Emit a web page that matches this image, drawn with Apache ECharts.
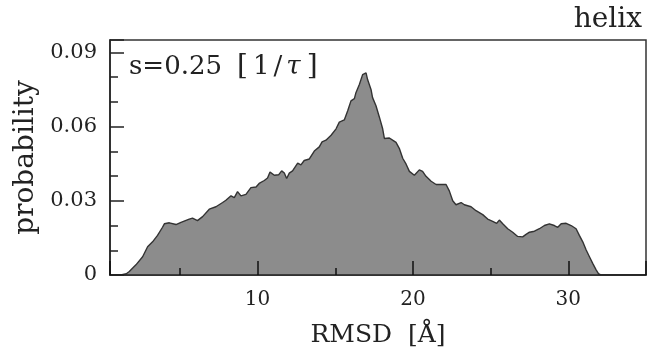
<!DOCTYPE html>
<html>
<head>
<meta charset="utf-8">
<script src="https://cdn.jsdelivr.net/npm/echarts@6/dist/echarts.min.js"></script>
<style>
html,body{margin:0;padding:0;background:#fff;}
#chart{width:649px;height:353px;}
</style>
</head>
<body>
<div id="chart"></div>
<script>
// RMSD bin centers [Å]
const rmsd = [0.5,1.2,1.55,1.74,2.17,2.6,2.92,3.24,3.56,3.88,4.0,4.32,4.75,5.07,5.6,5.81,6.13,6.46,6.89,7.32,7.75,7.96,8.29,8.5,8.71,8.93,9.25,9.57,9.9,10.1,10.43,10.64,10.8,11.08,11.35,11.55,11.72,11.87,12.04,12.25,12.58,12.79,13.0,13.33,13.65,13.97,14.15,14.4,14.73,15.05,15.26,15.58,15.8,16.01,16.23,16.33,16.55,16.76,16.98,17.08,17.3,17.4,17.62,17.84,18.05,18.16,18.48,18.69,18.91,19.12,19.34,19.56,19.77,20.09,20.41,20.62,20.84,21.17,21.49,21.81,22.13,22.34,22.56,22.77,23.1,23.31,23.74,24.06,24.49,24.81,25.13,25.39,25.56,25.78,26.1,26.42,26.74,27.06,27.28,27.5,27.82,28.14,28.46,28.78,29.1,29.32,29.54,29.86,30.18,30.5,30.71,30.93,31.15,31.36,31.57,31.79,31.96,32.1,35];
// probability values
const prob = [0,0,0.0005,0.0014,0.0041,0.0074,0.0114,0.0134,0.0160,0.0193,0.0207,0.0211,0.0204,0.0213,0.0226,0.0230,0.0220,0.0236,0.0266,0.0276,0.0293,0.0302,0.0320,0.0313,0.0337,0.0320,0.0326,0.0353,0.0356,0.0370,0.0382,0.0392,0.0416,0.0403,0.0405,0.0421,0.0412,0.0390,0.0412,0.0421,0.0452,0.0445,0.0463,0.0469,0.0501,0.0518,0.0538,0.0545,0.0565,0.0591,0.0618,0.0627,0.0664,0.0704,0.0713,0.0737,0.0770,0.0810,0.0817,0.0790,0.0750,0.0717,0.0684,0.0638,0.0591,0.0552,0.0554,0.0545,0.0536,0.0512,0.0472,0.0448,0.0419,0.0403,0.0425,0.0419,0.0399,0.0379,0.0366,0.0366,0.0366,0.0340,0.0300,0.0284,0.0293,0.0284,0.0276,0.0260,0.0244,0.0226,0.0217,0.0209,0.0222,0.0207,0.0187,0.0173,0.0156,0.0154,0.0164,0.0173,0.0177,0.0187,0.0200,0.0207,0.0200,0.0193,0.0207,0.0209,0.0200,0.0187,0.0160,0.0134,0.0101,0.0074,0.0047,0.0021,0.0004,0,0];
const xTickLabels = [10,20,30];
const yTickLabels = [0,0.03,0.06,0.09];

const FONT = 'DejaVu Serif';
const chart = echarts.init(document.getElementById('chart'), null, {renderer:'canvas'});
const pts = rmsd.map((x,i)=>[x,prob[i]]);
const xMin = 0.5, xMax = 35, yMin = 0, yMax = 0.095;

chart.setOption({
  animation:false,
  backgroundColor:'#fff',
  grid:{left:110,right:2,top:40,bottom:75,show:true,borderColor:'#333',borderWidth:1.5,backgroundColor:'transparent'},
  xAxis:[{
    type:'value',min:xMin,max:xMax,splitNumber:3,minInterval:10,maxInterval:10,z:10,
    axisLine:{show:true,lineStyle:{color:'#222',width:1.5}},
    axisTick:{show:true,inside:true,length:14,lineStyle:{color:'#111',width:1.5}},
    splitLine:{show:false},
    axisLabel:{fontFamily:FONT,fontSize:20,color:'#222',margin:15,
      formatter:v=>xTickLabels.indexOf(Math.round(v*1000)/1000)>=0?String(v):''},
    name:'RMSD  [Å]',nameLocation:'middle',nameGap:48,
    nameTextStyle:{fontFamily:FONT,fontSize:25,color:'#222'}
  },{
    type:'value',min:xMin,max:xMax,splitNumber:7,minInterval:5,maxInterval:5,position:'bottom',z:10,
    axisLine:{show:false},
    axisTick:{show:true,inside:true,length:7,lineStyle:{color:'#111',width:1.5}},
    axisLabel:{show:false},splitLine:{show:false}
  }],
  yAxis:[{
    type:'value',min:yMin,max:yMax,interval:0.03,z:10,
    axisLine:{show:true,lineStyle:{color:'#222',width:1.5}},
    axisTick:{show:true,inside:true,length:14,lineStyle:{color:'#222',width:1.5}},
    splitLine:{show:false},
    axisLabel:{fontFamily:FONT,fontSize:21,color:'#222',margin:13,
      formatter:v=>{const r=Math.round(v*10000)/10000;return yTickLabels.indexOf(r)>=0?(r===0?'0':r.toFixed(2)):'';}},
    name:'probability',nameLocation:'middle',nameGap:68,nameRotate:90,
    nameTextStyle:{fontFamily:FONT,fontSize:28,color:'#222'}
  },{
    type:'value',min:yMin,max:yMax,interval:0.01,position:'left',z:10,
    axisLine:{show:false},
    axisTick:{show:true,inside:true,length:8,lineStyle:{color:'#222',width:1.5}},
    axisLabel:{show:false},splitLine:{show:false}
  }],
  series:[{
    type:'line',xAxisIndex:0,yAxisIndex:0,data:pts,symbol:'none',
    lineStyle:{color:'#333',width:1.4},
    areaStyle:{color:'#8c8c8c',opacity:1},
    z:1
  }],
  graphic:[
    {type:'text',right:7,top:6,style:{text:'helix',font:'28px "DejaVu Serif"',fill:'#222'}},
    {type:'text',left:129,top:53,style:{
      text:'s=0.25{g| }{b|[}{n|1}{n|/}{t|τ}{b|]}',font:'26px "DejaVu Serif"',fill:'#222',
      rich:{
        g:{fontFamily:FONT,fontSize:26,width:12},
        b:{fontFamily:FONT,fontSize:28,padding:[0,3,0,3]},
        n:{fontFamily:FONT,fontSize:26,padding:[0,2,0,2]},
        t:{fontFamily:FONT,fontStyle:'italic',fontSize:26,padding:[0,3,0,2]}
      }
    }}
  ]
});
</script>
</body>
</html>
